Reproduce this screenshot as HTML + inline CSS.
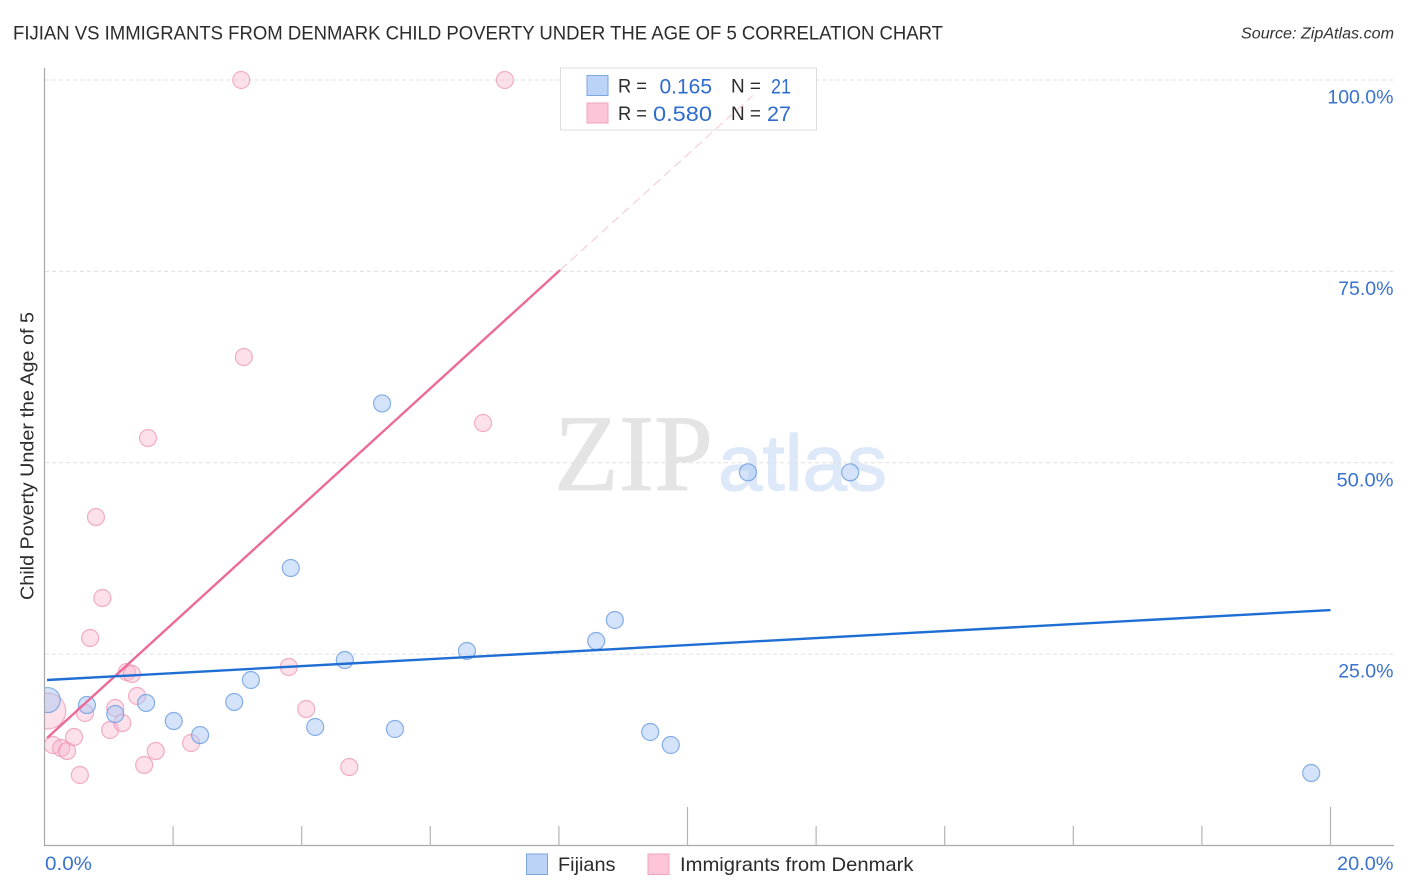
<!DOCTYPE html>
<html lang="en">
<head>
<meta charset="utf-8">
<title>Fijian vs Immigrants from Denmark Child Poverty Correlation Chart</title>
<style>
html,body{margin:0;padding:0;background:#fff;}
svg{display:block;font-family:"Liberation Sans",sans-serif;}
</style>
</head>
<body>
<svg id="chart" xmlns="http://www.w3.org/2000/svg" width="1406" height="892" viewBox="0 0 1406 892">
  <defs>
    <clipPath id="plot-clip"><rect x="45" y="60" width="1350" height="785"/></clipPath>
  </defs>
  <rect width="1406" height="892" fill="#fff"/>
  <text x="13" y="39.5" font-size="19.5" fill="#2b2b2b" textLength="930" lengthAdjust="spacingAndGlyphs">FIJIAN VS IMMIGRANTS FROM DENMARK CHILD POVERTY UNDER THE AGE OF 5 CORRELATION CHART</text>
  <text x="1241" y="38.5" font-size="15.5" font-style="italic" fill="#333" textLength="153" lengthAdjust="spacingAndGlyphs">Source: ZipAtlas.com</text>
  <g>
    <text x="554" y="490" font-family="'Liberation Serif',serif" font-size="109" fill="#e4e4e4" stroke="#e4e4e4" stroke-width="0.8" textLength="159" lengthAdjust="spacingAndGlyphs">ZIP</text>
    <text x="718" y="490" font-size="79" fill="#dde8f8" stroke="#dde8f8" stroke-width="1.2" textLength="169" lengthAdjust="spacingAndGlyphs">atlas</text>
  </g>
  <g id="grid"></g>
  <g id="axes"></g>
  <g id="points" clip-path="url(#plot-clip)"></g>
  <text transform="translate(33.5,600) rotate(-90)" font-size="18.5" fill="#2b2b2b" textLength="288" lengthAdjust="spacingAndGlyphs">Child Poverty Under the Age of 5</text>

  <g>
    <rect x="560.5" y="68" width="256" height="62" fill="#fff" stroke="#dcdcdc" stroke-width="1"/>
    <rect x="587" y="75.5" width="21" height="20" fill="#bad3f6" stroke="#7ba6e0" stroke-width="1"/>
    <rect x="587" y="103" width="21" height="20" fill="#fcc6d8" stroke="#f2a3bf" stroke-width="1"/>
    <g font-size="19" fill="#2b2b2b">
      <text x="618" y="92.5" textLength="29" lengthAdjust="spacingAndGlyphs">R =</text>
      <text x="618" y="120" textLength="29" lengthAdjust="spacingAndGlyphs">R =</text>
      <text x="731" y="92.5" textLength="30" lengthAdjust="spacingAndGlyphs">N =</text>
      <text x="731" y="120" textLength="30" lengthAdjust="spacingAndGlyphs">N =</text>
    </g>
    <g font-size="21" fill="#2f6ccf">
      <text x="659.5" y="93.5" textLength="52.5" lengthAdjust="spacingAndGlyphs">0.165</text>
      <text x="653" y="121" textLength="59" lengthAdjust="spacingAndGlyphs">0.580</text>
      <text x="771" y="93.5" textLength="20" lengthAdjust="spacingAndGlyphs">21</text>
      <text x="767" y="121" textLength="24" lengthAdjust="spacingAndGlyphs">27</text>
    </g>
  </g>
  <g id="trends" clip-path="url(#plot-clip)"></g>

  <g>
    <rect x="526.5" y="854" width="21" height="20.5" fill="#bad3f6" stroke="#7ba6e0" stroke-width="1"/>
    <text x="558" y="871" font-size="19.5" fill="#2b2b2b" textLength="57.5" lengthAdjust="spacingAndGlyphs">Fijians</text>
    <rect x="648" y="854" width="21" height="20.5" fill="#fcc6d8" stroke="#f2a3bf" stroke-width="1"/>
    <text x="680" y="871" font-size="19.5" fill="#2b2b2b" textLength="233.5" lengthAdjust="spacingAndGlyphs">Immigrants from Denmark</text>
  </g>
</svg>
<script>
// ---- chart data (percent values) ----
const yGridValues = [100, 75, 50, 25];
const yTickLabels = ["100.0%", "75.0%", "50.0%", "25.0%"];
const xTickValues = [0, 2, 4, 6, 8, 10, 12, 14, 16, 18, 20];
const xMajorTicks = [10, 20];
const xEndLabels = ["0.0%", "20.0%"];
const xEndLabelValues = [0, 20];

const fijianX = [0.05, 0.66, 1.10, 1.58, 2.01, 2.42, 2.95, 3.21, 3.83, 4.21, 4.67, 5.25, 5.45, 6.57, 8.58, 8.87, 9.42, 9.74, 10.94, 12.53, 19.70];
const fijianY = [19.0, 18.35, 17.18, 18.62, 16.26, 14.43, 18.75, 21.62, 36.25, 15.48, 24.23, 57.75, 15.22, 25.41, 26.71, 29.46, 14.83, 13.13, 48.75, 48.75, 9.47];
const fijianWeight = [2.16, 1, 1, 1, 1, 1, 1, 1, 1, 1, 1, 1, 1, 1, 1, 1, 1, 1, 1, 1, 1];

const denmarkX = [0.05, 0.13, 0.26, 0.35, 0.46, 0.55, 0.63, 0.71, 0.80, 0.90, 1.02, 1.10, 1.21, 1.28, 1.36, 1.44, 1.55, 1.61, 1.73, 2.28, 3.06, 3.10, 3.80, 4.07, 4.74, 6.82, 7.16];
const denmarkY = [17.57, 13.13, 12.74, 12.34, 14.17, 9.21, 17.31, 27.11, 42.91, 32.33, 15.09, 17.96, 16.0, 22.66, 22.4, 19.53, 10.52, 53.23, 12.34, 13.39, 100, 63.81, 23.32, 17.83, 10.25, 55.19, 100];
const denmarkWeight = [4.5, 1, 1, 1, 1, 1, 1, 1, 1, 1, 1, 1, 1, 1, 1, 1, 1, 1, 1, 1, 1, 1, 1, 1, 1, 1, 1];

const fijianTrendX = [0.04, 20];
const fijianTrendY = [21.62, 30.76];
const denmarkTrendX = [0.04, 8.02];
const denmarkTrendY = [14.04, 75.18];
const denmarkExtensionX = [8.02, 11.02];
const denmarkExtensionY = [75.18, 98.0];

// ---- axis functions ----
const xScale = v => 44.5 + v * 64.3;
const yScale = v => 845.5 - v * 7.655;
const BASE_R = 8.5;
const NS = "http://www.w3.org/2000/svg";
function make(tag, parent, attrs) {
  const el = document.createElementNS(NS, tag);
  for (const k in attrs) el.setAttribute(k, attrs[k]);
  parent.appendChild(el);
  return el;
}
const grid = document.getElementById("grid");
const axes = document.getElementById("axes");
const pointsG = document.getElementById("points");
const trends = document.getElementById("trends");

// gridlines and y labels
yGridValues.forEach((v, i) => {
  const line = make("line", grid, {x1: 45, x2: 1393, y1: yScale(v), y2: yScale(v), stroke: "#e0e0e0", "stroke-width": 1, "stroke-dasharray": "4 3"});
  
  
  const t = make("text", axes, {x: 1393.5, y: yScale(v) + 23.5, "text-anchor": "end", "font-size": 19.5, fill: "#3a72d0"});
  t.textContent = yTickLabels[i];
  if (yTickLabels[i] === "50.0%") { t.setAttribute("textLength", 57); t.setAttribute("lengthAdjust", "spacingAndGlyphs"); }
  
  
});

// axis lines
const yAxisLine = make("line", axes, {x1: 44.5, x2: 44.5, y1: 68, y2: 846, stroke: "#a8a8a8", "stroke-width": 1.2});


const xAxisLine = make("line", axes, {x1: 44, x2: 1394, y1: 845.5, y2: 845.5, stroke: "#a8a8a8", "stroke-width": 1.2});



// x ticks
xTickValues.forEach(v => {
  if (v === 0) return;
  const top = xMajorTicks.includes(v) ? 807 : 826;
  const tick = make("line", axes, {x1: xScale(v), x2: xScale(v), y1: top, y2: 845.5, stroke: "#b4b4b4", "stroke-width": 1.2});
  
  
});

// x end labels
xEndLabels.forEach((label, i) => {
  const v = xEndLabelValues[i];
  const t = make("text", axes, i === 0
    ? {x: xScale(v) + 0.5, y: 870, "font-size": 19.5, fill: "#3a72d0", textLength: 47, lengthAdjust: "spacingAndGlyphs"}
    : {x: 1337, y: 870, "font-size": 19.5, fill: "#3a72d0", textLength: 56.5, lengthAdjust: "spacingAndGlyphs"});
  t.textContent = label;
  
  
});

// series points
denmarkX.forEach((x, i) => {
  const c = make("circle", pointsG, {cx: xScale(x), cy: yScale(denmarkY[i]), r: BASE_R * Math.sqrt(denmarkWeight[i]), fill: "#f9b6cd", "fill-opacity": 0.42, stroke: "#ec8fb0", "stroke-opacity": 0.7, "stroke-width": 1.2});
  
  
});
fijianX.forEach((x, i) => {
  const c = make("circle", pointsG, {cx: xScale(x), cy: yScale(fijianY[i]), r: BASE_R * Math.sqrt(fijianWeight[i]), fill: "#a9c8f3", "fill-opacity": 0.5, stroke: "#6a9ce2", "stroke-opacity": 0.8, "stroke-width": 1.2});
  
  
});

// trend lines
const extensionLine = make("line", trends, {x1: xScale(denmarkExtensionX[0]), y1: yScale(denmarkExtensionY[0]), x2: xScale(denmarkExtensionX[1]), y2: yScale(denmarkExtensionY[1]), stroke: "#f2c6d6", "stroke-width": 1, "stroke-dasharray": "9 5"});


const denmarkLine = make("line", trends, {x1: xScale(denmarkTrendX[0]), y1: yScale(denmarkTrendY[0]), x2: xScale(denmarkTrendX[1]), y2: yScale(denmarkTrendY[1]), stroke: "#ec6a9a", "stroke-width": 2.4});


const fijianLine = make("line", trends, {x1: xScale(fijianTrendX[0]), y1: yScale(fijianTrendY[0]), x2: xScale(fijianTrendX[1]), y2: yScale(fijianTrendY[1]), stroke: "#1f6ed4", "stroke-width": 2.4});


</script>
</body>
</html>
